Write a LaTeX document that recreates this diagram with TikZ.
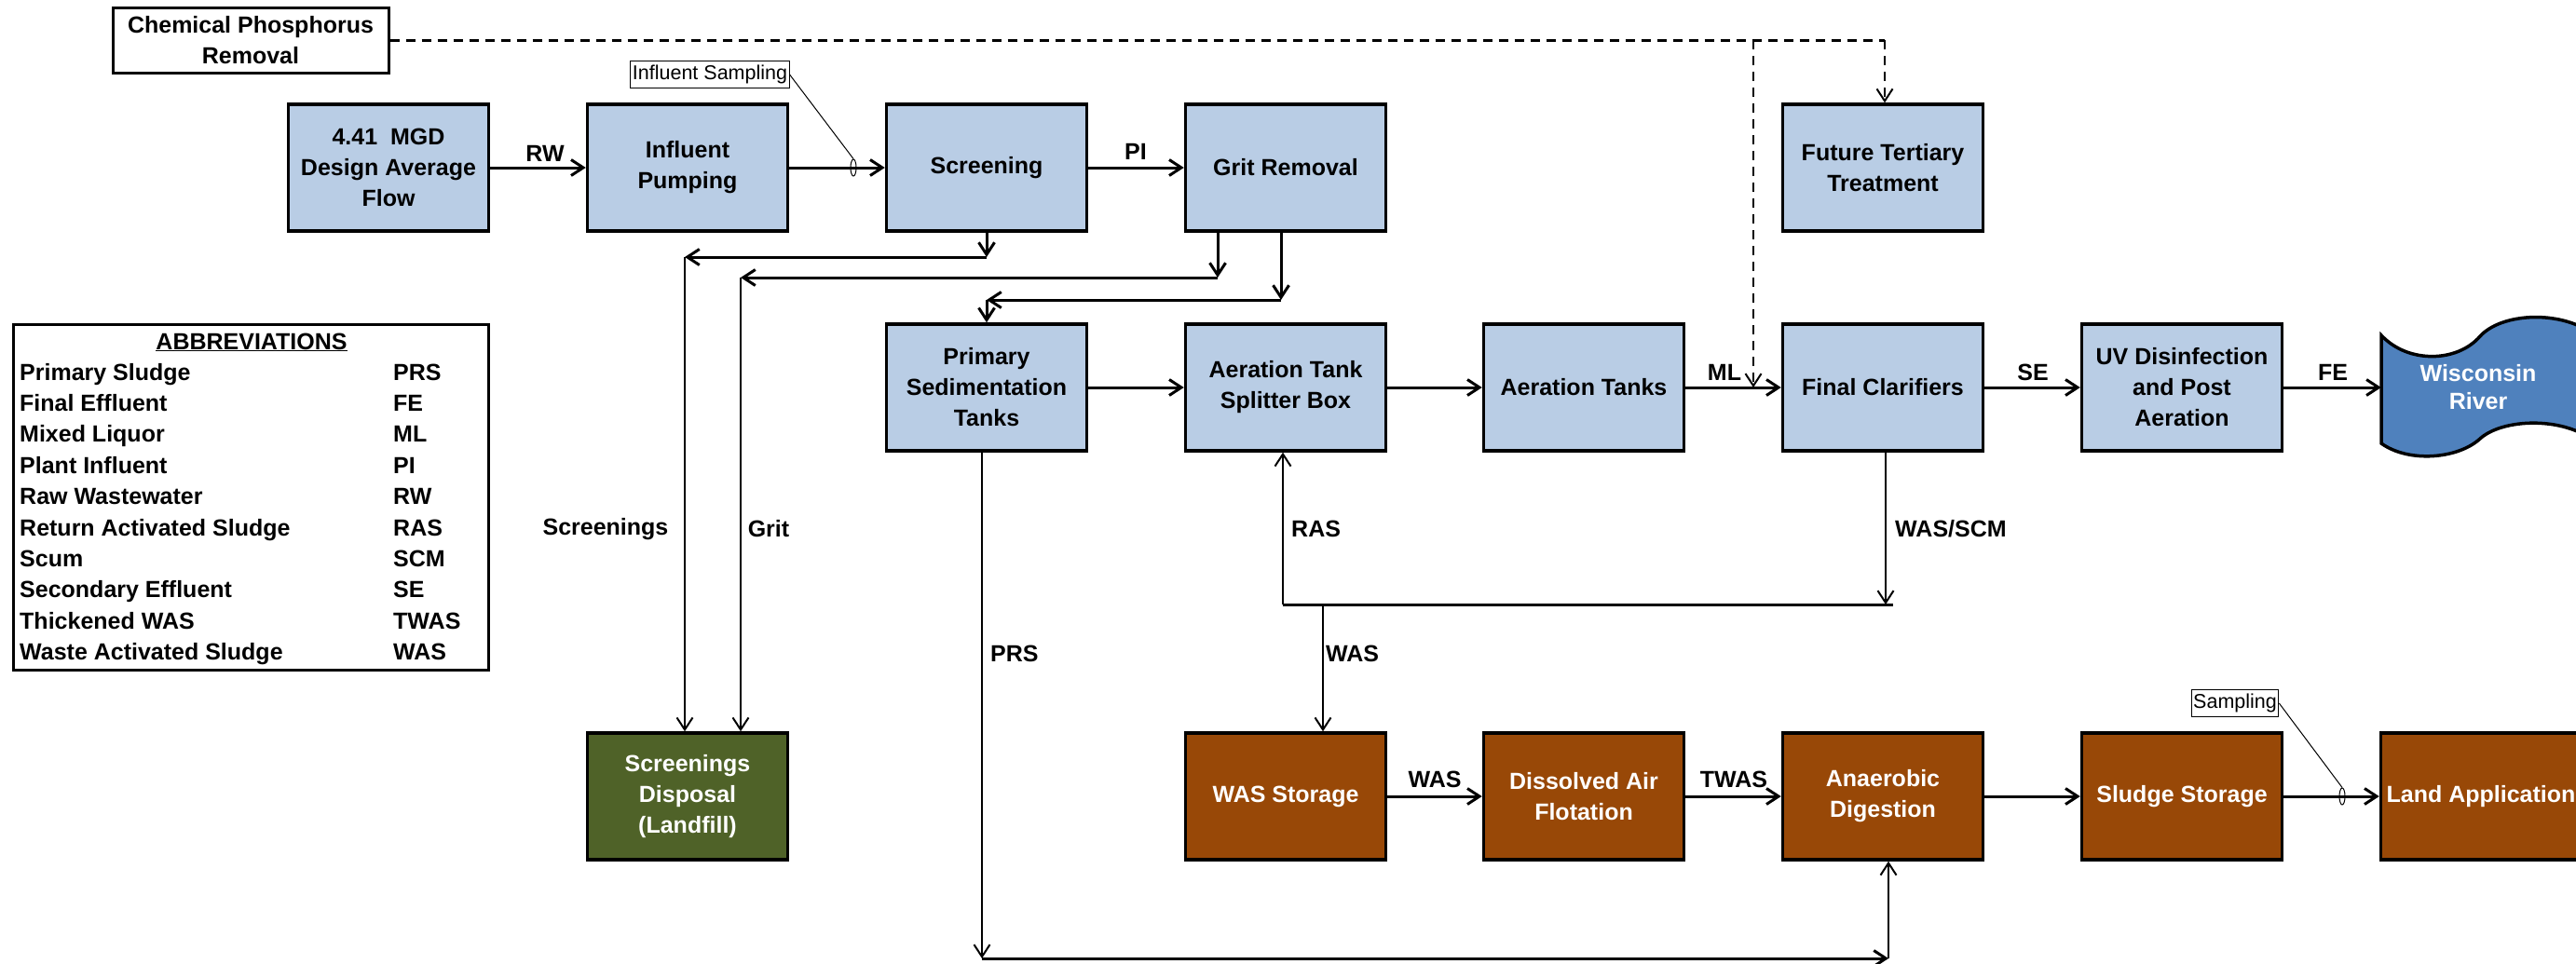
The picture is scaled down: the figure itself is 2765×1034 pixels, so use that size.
\documentclass[tikz,border=0pt]{standalone}
\usepackage{fontspec}
\setmainfont{Liberation Sans}
\usetikzlibrary{arrows.meta,shapes.geometric}
\definecolor{boxblue}{RGB}{185,205,229}
\definecolor{boxgreen}{RGB}{79,98,40}
\definecolor{boxbrown}{RGB}{152,72,7}
\definecolor{riverblue}{RGB}{79,129,189}
\begin{document}
\begin{tikzpicture}[x=1pt,y=-1pt,
  proc/.style={draw=black, line width=3.5pt, minimum width=215pt, minimum height=136pt,
    align=center, inner sep=0pt, font=\bfseries\fontsize{25}{33}\selectfont},
  procblue/.style={proc, fill=boxblue},
  procgreen/.style={proc, fill=boxgreen, text=white},
  procbrown/.style={proc, fill=boxbrown, text=white},
  flow/.style={line width=3pt, -{Straight Barb[length=13pt,width=17pt]}},
  thinflow/.style={line width=2pt, -{Straight Barb[length=13pt,width=17pt]}},
  plainline/.style={line width=3pt},
  dashmain/.style={line width=3pt, dash pattern=on 10pt off 7pt},
  dashflow/.style={line width=2pt, dash pattern=on 10pt off 7pt, -{Straight Barb[length=13pt,width=17pt,sep=0pt]}},
  lbl/.style={font=\bfseries\fontsize{25}{30}\selectfont, inner sep=0pt},
  note/.style={draw=black, line width=1pt, font=\fontsize{21.5}{24}\selectfont, inner sep=2pt, minimum height=29pt},
  probe/.style={draw=black, ellipse, line width=1pt, minimum width=6pt, minimum height=18pt, inner sep=0pt},
  abbr/.style={font=\bfseries\fontsize{25}{30}\selectfont, inner sep=0pt, anchor=base west}
]
\useasboundingbox (0,0) rectangle (2765,1034);
\clip (0,0) rectangle (2765,1034);

% top row
\node[draw=black, line width=3pt, minimum width=296pt, minimum height=70pt, align=center,
  inner sep=0pt, font=\bfseries\fontsize{25}{33}\selectfont] (chem) at (269,43) {Chemical Phosphorus\\Removal};
\node[procblue] (flow) at (417,180) {4.41\ \ MGD\\Design Average\\Flow};
\node[procblue] (pump) at (738,180) {Influent\\Pumping};
\node[procblue] (screen) at (1059,180) {Screening};
\node[procblue] (grit) at (1380,180) {Grit Removal};
\node[procblue] (future) at (2021,180) {Future Tertiary\\Treatment};

% middle row
\node[procblue] (prim) at (1059,416) {Primary\\Sedimentation\\Tanks};
\node[procblue] (split) at (1380,416) {Aeration Tank\\Splitter Box};
\node[procblue] (aer) at (1700,416) {Aeration Tanks};
\node[procblue] (final) at (2021,416) {Final Clarifiers};
\node[procblue] (uv) at (2342,416) {UV Disinfection\\and Post\\Aeration};
\node[minimum width=214pt, minimum height=120pt, inner sep=0pt] (river) at (2663,416) {};
\draw[line width=3.5pt, fill=riverblue]
  (2556,360) .. controls (2585,391) and (2638,389) .. (2662,361)
  .. controls (2684,337) and (2742,333) .. (2778,355) -- (2778,469)
  .. controls (2742,447) and (2684,451) .. (2662,471)
  .. controls (2638,493) and (2585,497) .. (2556,476) -- cycle;
\node[align=center, text=white, font=\bfseries\fontsize{25}{30}\selectfont, inner sep=0pt] (rivertext) at (2660,416) {Wisconsin\\River};

% bottom row
\node[procgreen] (disp) at (738,855) {Screenings\\Disposal\\(Landfill)};
\node[procbrown] (wasst) at (1380,855) {WAS Storage};
\node[procbrown] (daf) at (1700,855) {Dissolved Air\\Flotation};
\node[procbrown] (anaer) at (2021,855) {Anaerobic\\Digestion};
\node[procbrown] (sludge) at (2342,855) {Sludge Storage};
\node[procbrown] (land) at (2663,855) {Land Application};

% abbreviations
\node[draw=black, line width=3pt, minimum width=510pt, minimum height=371pt, inner sep=0pt] (abbrbox) at (269,533.5) {};
\node[font=\bfseries\fontsize{25}{30}\selectfont, inner sep=0pt, anchor=base] (abbrtitle) at (270,375) {\underline{ABBREVIATIONS}};
\foreach \n/\a [count=\i from 0] in {Primary Sludge/PRS, Final Effluent/FE, Mixed Liquor/ML, Plant Influent/PI,
  Raw Wastewater/RW, Return Activated Sludge/RAS, Scum/SCM, Secondary Effluent/SE, Thickened WAS/TWAS,
  Waste Activated Sludge/WAS}{
  \node[abbr] (abn\i) at (21,408+33.4*\i) {\n};
  \node[abbr] (aba\i) at (422,408+33.4*\i) {\a};
}

% notes
\node[note] (isamp) at (762,80) {Influent Sampling};
\node[probe] (samp1) at (916,180) {};
\node[note] (ssamp) at (2399,755) {Sampling};
\node[probe] (samp2) at (2514,855) {};

% main liquid flow
\draw[flow] (flow.east) -- (pump.west);
\draw[flow] (pump.east) -- (screen.west);
\draw[line width=1pt] (isamp.east) -- (samp1.north);
\draw[flow] (screen.east) -- (grit.west);
\draw[flow] (prim.east) -- (split.west);
\draw[flow] (split.east) -- (aer.west);
\draw[flow] (aer.east) -- (final.west);
\draw[flow] (final.east) -- (uv.west);
\draw[flow] (uv.east) -- (river.west);

% screenings and grit
\coordinate (s1) at (1059,276);
\coordinate (s2) at (735,276);
\coordinate (g1) at (1307,298);
\coordinate (g2) at (795,298);
\coordinate (g3) at (1375,322);
\coordinate (g4) at (1059,322);
\draw[flow] (screen.south) -- (s1);
\draw[flow] (s1) -- (s2);
\draw[thinflow] (s2) -- (s2 |- disp.north);
\draw[flow] (grit.south -| g1) -- (g1);
\draw[flow] (g1) -- (g2);
\draw[thinflow] (g2) -- (g2 |- disp.north);
\draw[flow] (grit.south -| g3) -- (g3);
\draw[flow] (g3) -- (g4);
\draw[flow] (g4) -- (prim.north);

% chemical phosphorus (dashed)
\coordinate (d1) at (1882,43);
\coordinate (d2) at (2023,43);
\draw[dashmain] (chem.east) -- (d2);
\draw[dashflow] (d2) -- (d2 |- future.north);
\draw[dashflow] (d1) -- (d1 |- aer.east);

% RAS / WAS
\coordinate (r0) at (2032,649);
\coordinate (r1) at (2024,649);
\coordinate (r2) at (1377,649);
\coordinate (w1) at (1420,649);
\draw[thinflow] (final.south -| r1) -- (r1);
\draw[plainline] (r0) -- (r2);
\draw[thinflow] (r2) -- (r2 |- split.south);
\draw[thinflow] (w1) -- (w1 |- wasst.north);

% primary sludge
\coordinate (p1) at (1054,1029);
\coordinate (p2) at (2027,1029);
\draw[thinflow] (prim.south -| p1) -- (p1);
\draw[flow] (p1) -- (p2);
\draw[thinflow] (p2) -- (p2 |- anaer.south);

% solids train
\draw[flow] (wasst.east) -- (daf.west);
\draw[flow] (daf.east) -- (anaer.west);
\draw[flow] (anaer.east) -- (sludge.west);
\draw[flow] (sludge.east) -- (land.west);
\draw[line width=1pt] (ssamp.east) -- (samp2.north);

% labels
\node[lbl] (lrw) at (585,165) {RW};
\node[lbl] (lpi) at (1219,163) {PI};
\node[lbl] (lml) at (1851,400) {ML};
\node[lbl] (lse) at (2182,400) {SE};
\node[lbl] (lfe) at (2504,400) {FE};
\node[lbl] (lscr) at (650,568) {Screenings};
\node[lbl] (lgrit) at (825,568) {Grit};
\node[lbl, anchor=west] (lras) at (1386,568) {RAS};
\node[lbl, anchor=west] (lwasscm) at (2034,568) {WAS/SCM};
\node[lbl, anchor=west] (lprs) at (1063,702) {PRS};
\node[lbl, anchor=west] (lwas1) at (1423,702) {WAS};
\node[lbl] (lwas2) at (1540,837) {WAS};
\node[lbl] (ltwas) at (1861,837) {TWAS};
\end{tikzpicture}
\end{document}
